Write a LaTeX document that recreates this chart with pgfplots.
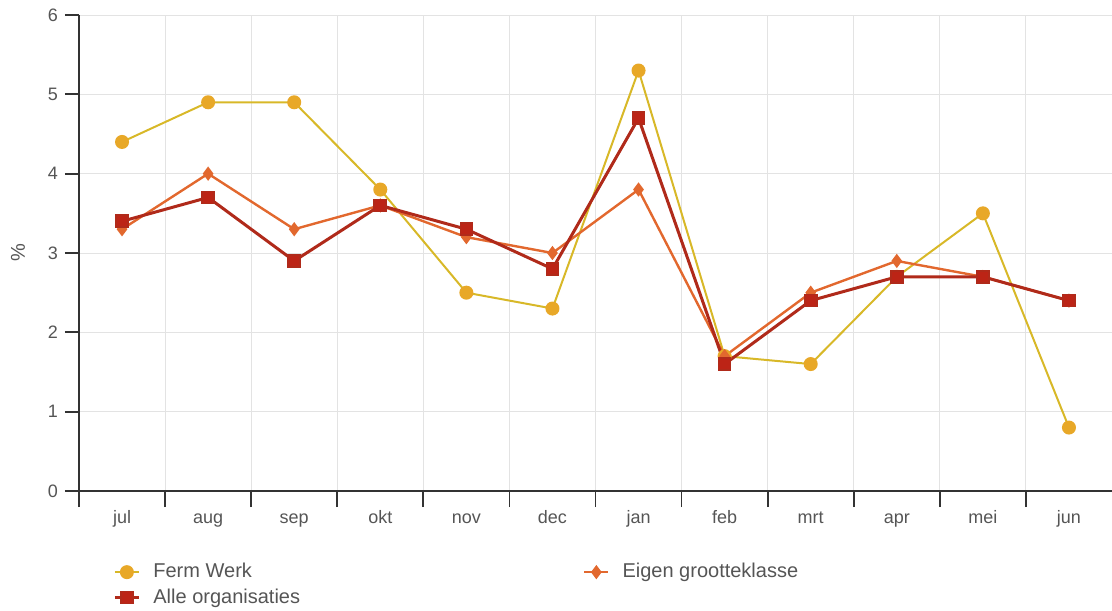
\documentclass[border=0pt]{standalone}
\usepackage{pgfplots}
\pgfplotsset{compat=1.18}
\usepackage{fontspec}
\setmainfont{Liberation Sans}

\definecolor{ferm}{HTML}{E8A828}
\definecolor{fermline}{HTML}{D8B828}
\definecolor{alle}{HTML}{B02A1A}
\definecolor{eigen}{HTML}{E2682E}
\definecolor{tick}{HTML}{555555}

\begin{document}
\begin{tikzpicture}
\begin{axis}[
    scale only axis,
    width=516.5pt, height=238pt,
    xmin=-0.5, xmax=11.5, ymin=0, ymax=6,
    axis x line*=bottom, axis y line*=left,
    axis line style={-, draw=black!80, line width=0.9pt},
    xtick={0,...,11},
    xticklabels={jul,aug,sep,okt,nov,dec,jan,feb,mrt,apr,mei,jun},
    major x tick style={draw=none},
    minor xtick={-0.5,0.5,...,10.5},
    minor x tick style={draw=black!80, line width=0.9pt},
    minor tick length=8pt,
    xminorgrids, ymajorgrids,
    minor grid style={draw=gray!22, line width=0.5pt},
    major grid style={draw=gray!22, line width=0.5pt},
    ytick={0,...,6},
    major tick length=7pt,
    tick align=outside,
    y tick style={draw=black!80, line width=0.9pt},
    tick label style={font=\fontsize{9}{10}\selectfont, text=tick},
    /pgf/number format/assume math mode=true,
    xticklabel style={text height=6.5pt, text depth=2pt, yshift=1pt},
    ylabel={\%},
    ylabel style={at={(axis description cs:-0.059,0.5)}, anchor=center, font=\fontsize{10}{12}\selectfont, text=tick},
    legend columns=2,
    legend cell align=left,
    legend style={draw=none, fill=none, inner sep=0pt,
        at={(17pt,-34pt)}, anchor=north west,
        font=\fontsize{10}{12}\selectfont, text=tick,
        nodes={inner xsep=6.5pt},
        /tikz/every even column/.append style={column sep=135pt},
        row sep=0pt},
    legend image code/.code={\draw[mark repeat=2,mark phase=2,#1] plot coordinates {(0pt,0pt)(6pt,0pt)(12pt,0pt)};},
]
\addplot[color=fermline, line width=1pt, mark=*, mark size=3pt, mark options={fill=ferm, draw=ferm}]
  coordinates {(0,4.4)(1,4.9)(2,4.9)(3,3.8)(4,2.5)(5,2.3)(6,5.3)(7,1.7)(8,1.6)(9,2.7)(10,3.5)(11,0.8)};
\addlegendentry{Ferm Werk}
\addplot[color=eigen, line width=1.2pt, mark=diamond*, mark size=2.6pt, mark options={fill=eigen, draw=eigen}]
  coordinates {(0,3.3)(1,4.0)(2,3.3)(3,3.6)(4,3.2)(5,3.0)(6,3.8)(7,1.7)(8,2.5)(9,2.9)(10,2.7)(11,2.4)};
\addlegendentry{Eigen grootteklasse}
\addplot[color=alle, line width=1.5pt, mark=square*, mark size=3pt, mark options={fill=alle!85!red, draw=alle, line width=0.8pt}]
  coordinates {(0,3.4)(1,3.7)(2,2.9)(3,3.6)(4,3.3)(5,2.8)(6,4.7)(7,1.6)(8,2.4)(9,2.7)(10,2.7)(11,2.4)};
\addlegendentry{Alle organisaties}
\end{axis}
\pgfresetboundingbox
\useasboundingbox (-39.5pt,-59.5pt) rectangle (516.5pt,245.5pt);
\end{tikzpicture}
\end{document}
